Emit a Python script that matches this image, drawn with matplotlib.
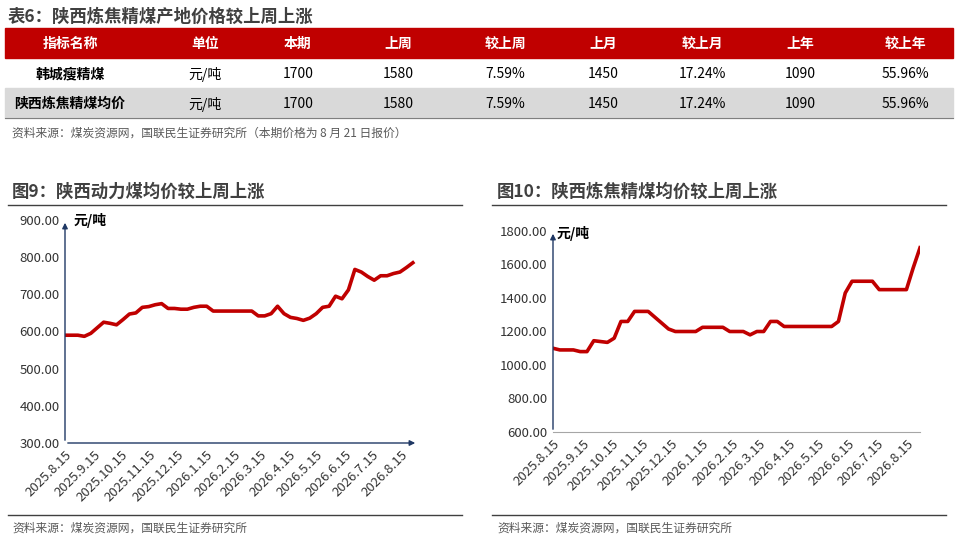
import numpy as np
import pandas as pd
import matplotlib.pyplot as plt
from matplotlib.patches import Rectangle

plt.rcParams['font.family'] = ['Noto Sans CJK SC', 'DejaVu Sans']

# table data
headers = ['指标名称', '单位', '本期', '上周', '较上周', '上月', '较上月', '上年', '较上年']
row1 = ['韩城瘦精煤', '元/吨', '1700', '1580', '7.59%', '1450', '17.24%', '1090', '55.96%']
row2 = ['陕西炼焦精煤均价', '元/吨', '1700', '1580', '7.59%', '1450', '17.24%', '1090', '55.96%']

# weekly prices
power_coal = [590, 590, 590, 587, 595, 610, 625, 622, 618, 632, 647, 650, 665, 667, 672, 675,
              662, 662, 660, 660, 665, 668, 668, 655, 655, 655, 655, 655, 655, 655, 642, 642,
              648, 668, 648, 638, 635, 630, 636, 648, 665, 668, 695, 688, 712, 767, 760, 748,
              738, 750, 750, 756, 760, 772, 785]
coking_coal = [1100, 1090, 1090, 1090, 1080, 1080, 1145, 1140, 1135, 1160, 1260, 1260, 1320, 1320,
               1320, 1285, 1250, 1215, 1200, 1200, 1200, 1200, 1225, 1225, 1225, 1225, 1200, 1200,
               1200, 1180, 1200, 1200, 1260, 1260, 1230, 1230, 1230, 1230, 1230, 1230, 1230, 1230,
               1260, 1430, 1500, 1500, 1500, 1500, 1450, 1450, 1450, 1450, 1450, 1580, 1700]
tick_dates = ['2025.8.15', '2025.9.15', '2025.10.15', '2025.11.15', '2025.12.15', '2026.1.15',
              '2026.2.15', '2026.3.15', '2026.4.15', '2026.5.15', '2026.6.15', '2026.7.15', '2026.8.15']

start = pd.Timestamp('2025-08-15')
tick_pos = [(pd.Timestamp(d.replace('.', '-')) - start).days / 7 for d in tick_dates]

W, H = 959, 544
fig = plt.figure(figsize=(W / 100, H / 100), dpi=100)

def fx(px):
    return px / W

def fy(py):
    return 1 - py / H

red = '#c00000'
line_red = '#c00000'

# table
fig.text(fx(8), fy(17), '表6：陕西炼焦精煤产地价格较上周上涨', fontsize=12.5, weight='bold',
         color='#404040', va='center')
fig.add_artist(Rectangle((fx(5), fy(58)), fx(948), 30 / H, transform=fig.transFigure, color=red))
fig.add_artist(Rectangle((fx(5), fy(118)), fx(948), 30 / H, transform=fig.transFigure, color='#d9d9d9'))
fig.add_artist(plt.Line2D([fx(5), fx(953)], [fy(118), fy(118)], transform=fig.transFigure,
                          color='#7f7f7f', lw=0.8))
col_x = [70, 205, 298, 398, 505, 603, 702, 800, 905]
for cx, h, a, b in zip(col_x, headers, row1, row2):
    fig.text(fx(cx), fy(44), h, color='white', weight='bold', fontsize=10, ha='center', va='center')
    fig.text(fx(cx), fy(74), a, color='black', fontsize=10, ha='center', va='center',
             weight='bold' if cx == 70 else 'normal')
    fig.text(fx(cx), fy(104), b, color='black', fontsize=10, ha='center', va='center',
             weight='bold' if cx == 70 else 'normal')
fig.text(fx(12), fy(133), '资料来源：煤炭资源网，国联民生证券研究所（本期价格为 8 月 21 日报价）',
         fontsize=8.5, color='#595959', va='center')

# chart titles and rules
fig.text(fx(12), fy(192), '图9：陕西动力煤均价较上周上涨', fontsize=12.5, weight='bold', color='#404040', va='center')
fig.text(fx(497), fy(192), '图10：陕西炼焦精煤均价较上周上涨', fontsize=12.5, weight='bold', color='#404040', va='center')
for x0, x1 in [(8, 462), (492, 946)]:
    fig.add_artist(plt.Line2D([fx(x0), fx(x1)], [fy(205), fy(205)], transform=fig.transFigure,
                              color='#404040', lw=1))
    fig.add_artist(plt.Line2D([fx(x0), fx(x1)], [fy(515), fy(515)], transform=fig.transFigure,
                              color='#404040', lw=1))
fig.text(fx(12), fy(528), '资料来源：煤炭资源网，国联民生证券研究所', fontsize=8.5, color='#595959', va='center')
fig.text(fx(497), fy(528), '资料来源：煤炭资源网，国联民生证券研究所', fontsize=8.5, color='#595959', va='center')

arrow_col = '#1f3864'

# left chart
ax1 = fig.add_axes([fx(65), fy(443), fx(418 - 65), (443 - 220) / H])
x1 = np.arange(len(power_coal))
ax1.plot(x1, power_coal, color=line_red, lw=2.6)
ax1.set_ylim(300, 900)
ax1.set_xlim(0, len(power_coal) - 1 + 0.8)
ax1.set_yticks(np.arange(300, 901, 100))
ax1.set_yticklabels([f'{v:.2f}' for v in range(300, 901, 100)])
for s in ax1.spines.values():
    s.set_visible(False)
ax1.annotate('', xy=(0, 1.0), xytext=(0, 0), xycoords='axes fraction',
             arrowprops=dict(arrowstyle='-|>', color=arrow_col, lw=1, mutation_scale=8))
ax1.annotate('', xy=(1.0, 0), xytext=(0, 0), xycoords='axes fraction',
             arrowprops=dict(arrowstyle='-|>', color=arrow_col, lw=1, mutation_scale=8))
ax1.text(0.025, 1.0, '元/吨', transform=ax1.transAxes, fontsize=10, weight='bold', va='center')

# right chart
ax2 = fig.add_axes([fx(553), fy(432), fx(920 - 553), (432 - 231) / H])
x2 = np.arange(len(coking_coal))
ax2.plot(x2, coking_coal, color=line_red, lw=2.6)
ax2.set_ylim(600, 1800)
ax2.set_xlim(0, len(coking_coal) - 1)
ax2.set_yticks(np.arange(600, 1801, 200))
ax2.set_yticklabels([f'{v:.2f}' for v in range(600, 1801, 200)])
for k in ['top', 'right', 'left']:
    ax2.spines[k].set_visible(False)
ax2.spines['bottom'].set_color('#a6a6a6')
ax2.annotate('', xy=(0, 1.0), xytext=(0, 0), xycoords='axes fraction',
             arrowprops=dict(arrowstyle='-|>', color=arrow_col, lw=1, mutation_scale=8))
ax2.text(0.01, 0.99, '元/吨', transform=ax2.transAxes, fontsize=10, weight='bold', va='center')

for ax in (ax1, ax2):
    ax.set_xticks(tick_pos)
    ax.set_xticklabels(tick_dates, rotation=45, ha='right', rotation_mode='anchor')
    ax.tick_params(length=0, labelsize=9.5, colors='#333333', pad=4)

fig.savefig('out.png', dpi=100)
